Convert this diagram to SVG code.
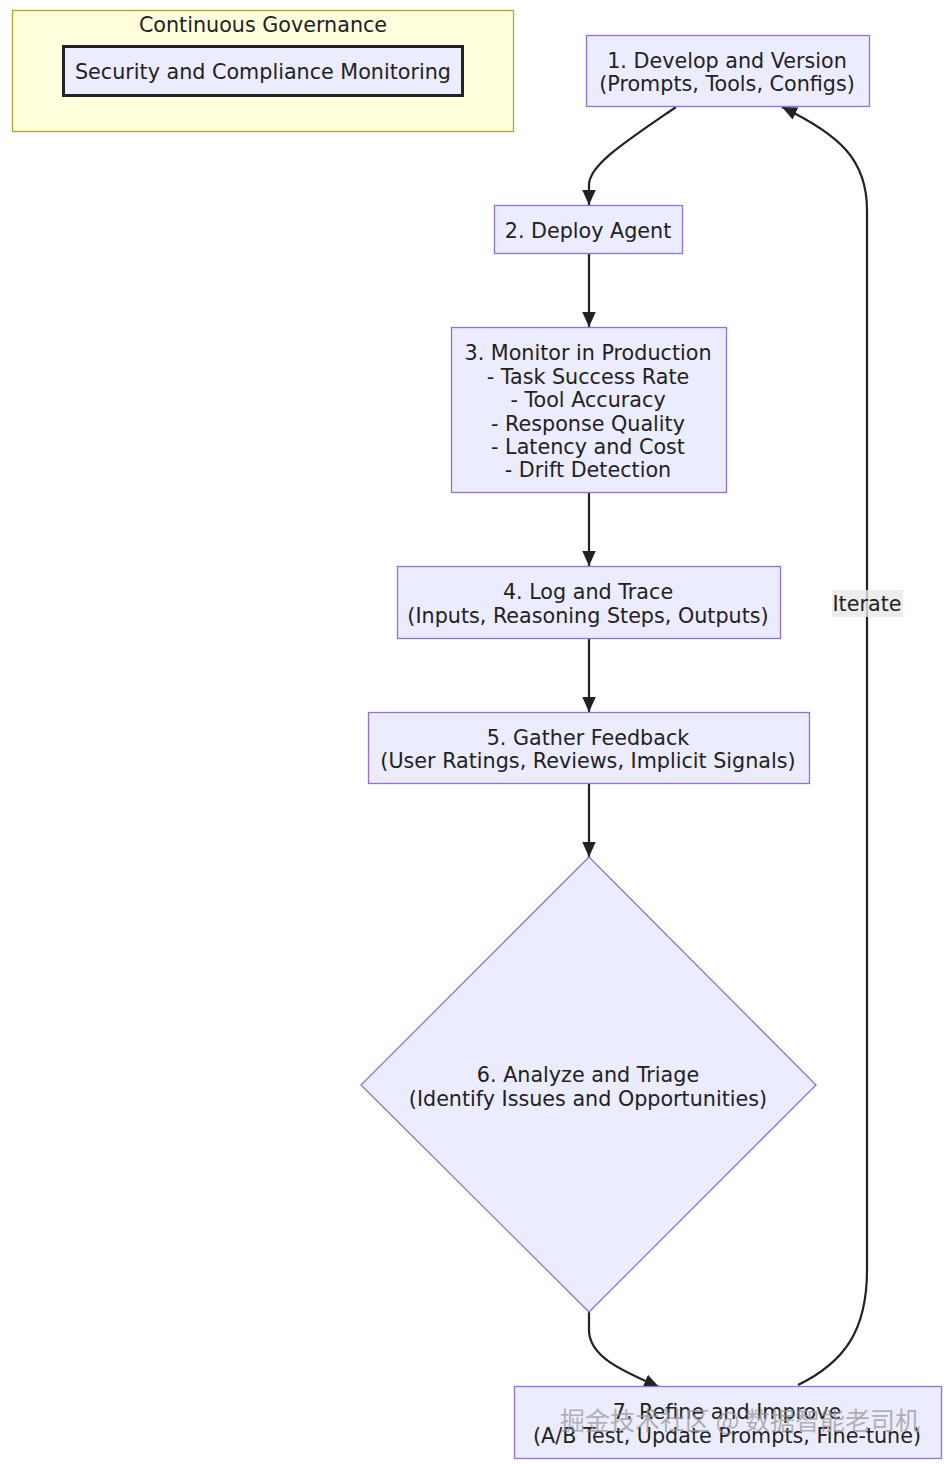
<svg xmlns="http://www.w3.org/2000/svg" width="951" height="1464" viewBox="0 0 951 1464">
<defs>
<marker id="arrow" viewBox="0 0 10 10" refX="10" refY="5" markerWidth="15" markerHeight="15" markerUnits="userSpaceOnUse" orient="auto">
<path d="M0,0.5 L10,5 L0,9.5 z" fill="#222"/>
</marker>
<style>
.node rect, .node polygon { fill: #ECECFF; stroke: #9370DB; stroke-width: 1.3; }
.t { font-family: "DejaVu Sans", Verdana, sans-serif; font-size: 20.7px; fill: #222; text-anchor: middle; dominant-baseline: central; }
.edge { fill: none; stroke: #222; stroke-width: 2.2; }
</style>
</defs>
<rect width="951" height="1464" fill="#ffffff"/>
<g id="cluster-governance">
<rect x="12.5" y="10.5" width="501" height="121" fill="#ffffde" stroke="#aaaa33" stroke-width="1.3"/>
<text class="t" x="263" y="25">Continuous Governance</text>
</g>
<g id="node-security" class="node">
<rect x="63.5" y="46.5" width="399" height="49" style="stroke:#222;stroke-width:3"/>
<text class="t" x="263" y="72">Security and Compliance Monitoring</text>
</g>
<g id="connectors">
<path class="edge" d="M676,107 C625,142 589,165 589,185 L589,205" marker-end="url(#arrow)"/>
<path class="edge" d="M589,253 L589,327" marker-end="url(#arrow)"/>
<path class="edge" d="M589,492 L589,566" marker-end="url(#arrow)"/>
<path class="edge" d="M589,638 L589,712" marker-end="url(#arrow)"/>
<path class="edge" d="M589,783 L589,857" marker-end="url(#arrow)"/>
<path class="edge" d="M589,1312 L589,1330 C589,1356 620,1370 659,1387" marker-end="url(#arrow)"/>
<path class="edge" d="M798,1385 C845,1362 867,1330 867,1270 L867,210 C867,160 840,135 782,107" marker-end="url(#arrow)"/>
<rect x="832" y="590" width="71" height="27" fill="#e8e8e8" fill-opacity="0.8"/>
<text class="t" x="867" y="604">Iterate</text>
</g>
<g id="node-1" class="node">
<rect x="586.5" y="35.5" width="283" height="71"/>
<text class="t" x="727" y="61">1. Develop and Version</text>
<text class="t" x="727" y="84">(Prompts, Tools, Configs)</text>
</g>
<g id="node-2" class="node">
<rect x="494.5" y="205.5" width="188" height="48"/>
<text class="t" x="588" y="231">2. Deploy Agent</text>
</g>
<g id="node-3" class="node">
<rect x="451.5" y="327.5" width="275" height="165"/>
<text class="t" x="588" y="353">3. Monitor in Production</text>
<text class="t" x="588" y="377">- Task Success Rate</text>
<text class="t" x="588" y="400">- Tool Accuracy</text>
<text class="t" x="588" y="424">- Response Quality</text>
<text class="t" x="588" y="447">- Latency and Cost</text>
<text class="t" x="588" y="470">- Drift Detection</text>
</g>
<g id="node-4" class="node">
<rect x="397.5" y="566.5" width="383" height="72"/>
<text class="t" x="588" y="592">4. Log and Trace</text>
<text class="t" x="588" y="616">(Inputs, Reasoning Steps, Outputs)</text>
</g>
<g id="node-5" class="node">
<rect x="368.5" y="712.5" width="441" height="71"/>
<text class="t" x="588" y="738">5. Gather Feedback</text>
<text class="t" x="588" y="761">(User Ratings, Reviews, Implicit Signals)</text>
</g>
<g id="node-6" class="node">
<polygon points="589,857 816,1085 589,1312 361,1085"/>
<text class="t" x="588" y="1075">6. Analyze and Triage</text>
<text class="t" x="588" y="1099">(Identify Issues and Opportunities)</text>
</g>
<g id="node-7" class="node">
<rect x="514.5" y="1386.5" width="427" height="72"/>
<text class="t" x="727" y="1412">7. Refine and Improve</text>
<text class="t" x="727" y="1436">(A/B Test, Update Prompts, Fine-tune)</text>
</g>
<text x="740" y="1419" style="font-family:'Noto Sans CJK SC',sans-serif;font-size:25px;fill:#9a9a9a;fill-opacity:0.75;text-anchor:middle;dominant-baseline:central;">掘金技术社区 @ 数据智能老司机</text>
</svg>
